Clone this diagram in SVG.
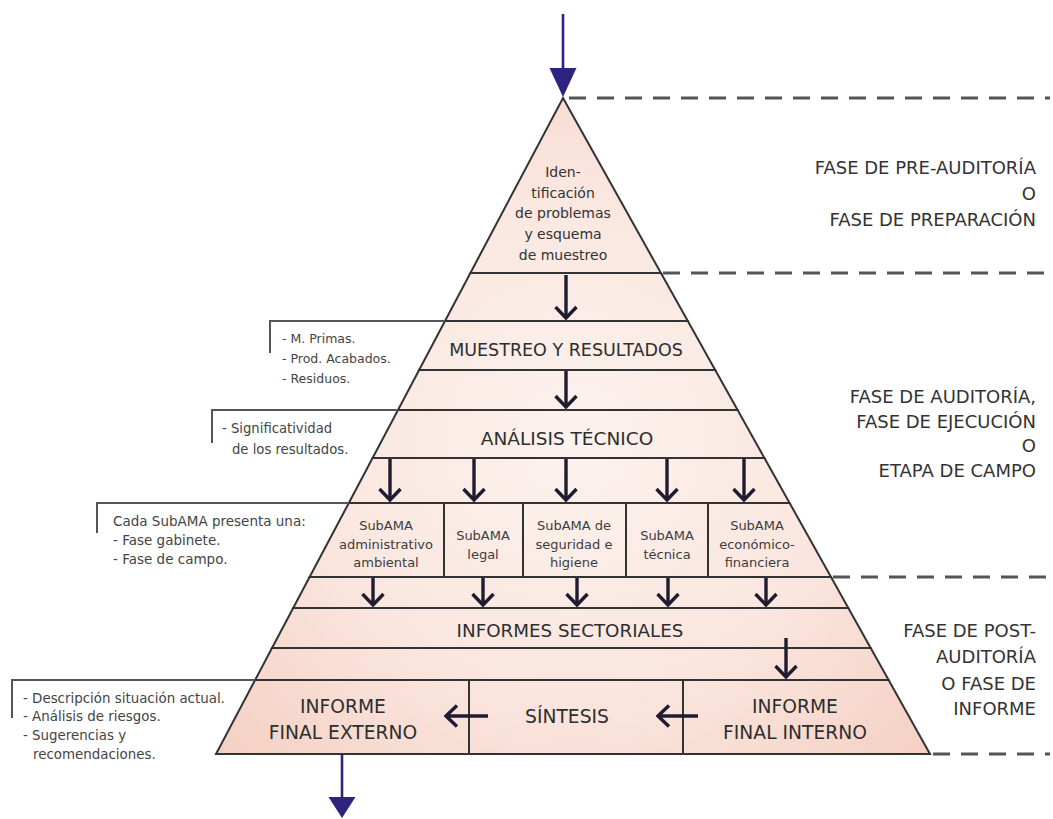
<svg xmlns="http://www.w3.org/2000/svg" width="1053" height="819" viewBox="0 0 1053 819">
  <defs>
    <radialGradient id="pinkFill" gradientUnits="userSpaceOnUse" cx="575" cy="440" r="470">
      <stop offset="0" stop-color="#fcf2ee"/>
      <stop offset="0.55" stop-color="#fae6df"/>
      <stop offset="1" stop-color="#f4d0c3"/>
    </radialGradient>
    <marker id="chev" viewBox="-14 -13 16 26" refX="0" refY="0" markerWidth="16" markerHeight="26" markerUnits="userSpaceOnUse" orient="auto">
      <path d="M-11,-10.5 L0,0 L-11,10.5" fill="none" stroke="#1f1c30" stroke-width="3.4" stroke-linejoin="miter"/>
    </marker>
    <style>
      .tier { fill: url(#pinkFill); stroke: #333; stroke-width: 2; stroke-linejoin: miter; }
      .div { stroke: #333; stroke-width: 2; }
      .lbl { font-family: "DejaVu Sans", Verdana, sans-serif; font-size: 17.5px; fill: #2e2e2e; text-anchor: middle; }
      .top { font-family: "DejaVu Sans", Verdana, sans-serif; font-size: 14px; fill: #333; text-anchor: middle; }
      .sub { font-family: "DejaVu Sans", Verdana, sans-serif; font-size: 13px; fill: #3c3c3c; text-anchor: middle; }
      .note { font-family: "DejaVu Sans", Verdana, sans-serif; font-size: 12.5px; fill: #444; }
      .phase { font-family: "DejaVu Sans", Verdana, sans-serif; font-size: 18px; fill: #333; text-anchor: end; }
      .dash { stroke: #555; stroke-width: 3; stroke-dasharray: 17 11; fill: none; }
      .bracket { stroke: #555; stroke-width: 2; fill: none; }
      .arr { stroke: #1f1c30; stroke-width: 3.4; fill: none; marker-end: url(#chev); }
      .blue { stroke: #2d2380; stroke-width: 2.6; }
      .bluehead { fill: #2d2380; }
    </style>
  </defs>

  <rect width="1053" height="819" fill="#ffffff"/>

  <!-- phase boundaries -->
  <g id="phase-lines">
    <line class="dash" x1="569" y1="98" x2="1050" y2="98"/>
    <line class="dash" x1="663" y1="273" x2="1050" y2="273"/>
    <line class="dash" x1="833" y1="577" x2="1050" y2="577"/>
    <line class="dash" x1="933" y1="754" x2="1050" y2="754"/>
  </g>

  <!-- pyramid tiers -->
  <g id="identificacion">
    <polygon class="tier" points="563,98 660.9,273 470.4,273"/>
    <text class="top" x="563" y="177">Iden-</text>
    <text class="top" x="563" y="198">tificación</text>
    <text class="top" x="563" y="218">de problemas</text>
    <text class="top" x="563" y="239">y esquema</text>
    <text class="top" x="563" y="260">de muestreo</text>
  </g>
  <g id="band-1">
    <polygon class="tier" points="470.4,273 660.9,273 687.8,321 445,321"/>
  </g>
  <g id="muestreo">
    <polygon class="tier" points="445,321 687.8,321 715.2,370 419.1,370"/>
    <text class="lbl" x="566" y="356">MUESTREO Y RESULTADOS</text>
  </g>
  <g id="band-2">
    <polygon class="tier" points="419.1,370 715.2,370 737.6,410 398,410"/>
  </g>
  <g id="analisis">
    <polygon class="tier" points="398,410 737.6,410 764.4,458 372.6,458"/>
    <text class="lbl" x="567" y="445" style="font-size:18.5px">ANÁLISIS TÉCNICO</text>
  </g>
  <g id="band-3">
    <polygon class="tier" points="372.6,458 764.4,458 789.6,503 348.8,503"/>
  </g>
  <g id="subama-row">
    <polygon class="tier" points="348.8,503 789.6,503 831,577 309.6,577"/>
    <line class="div" x1="444" y1="503" x2="444" y2="577"/>
    <line class="div" x1="523" y1="503" x2="523" y2="577"/>
    <line class="div" x1="626" y1="503" x2="626" y2="577"/>
    <line class="div" x1="708" y1="503" x2="708" y2="577"/>
  </g>
  <g id="subama-administrativo">
    <text class="sub" x="386" y="529.5">SubAMA</text>
    <text class="sub" x="386" y="548.5">administrativo</text>
    <text class="sub" x="386" y="566.5">ambiental</text>
  </g>
  <g id="subama-legal">
    <text class="sub" x="483" y="539.5">SubAMA</text>
    <text class="sub" x="483" y="558.5">legal</text>
  </g>
  <g id="subama-seguridad">
    <text class="sub" x="574" y="529.5">SubAMA de</text>
    <text class="sub" x="574" y="548.5">seguridad e</text>
    <text class="sub" x="574" y="566.5">higiene</text>
  </g>
  <g id="subama-tecnica">
    <text class="sub" x="667" y="539.5">SubAMA</text>
    <text class="sub" x="667" y="558.5">técnica</text>
  </g>
  <g id="subama-economico">
    <text class="sub" x="757" y="529.5">SubAMA</text>
    <text class="sub" x="757" y="548.5">económico-</text>
    <text class="sub" x="757" y="566.5">financiera</text>
  </g>
  <g id="band-4">
    <polygon class="tier" points="309.6,577 831,577 848.3,608 293.2,608"/>
  </g>
  <g id="informes-sectoriales">
    <polygon class="tier" points="293.2,608 848.3,608 870.7,648 272,648"/>
    <text class="lbl" x="570" y="637" style="font-size:18.3px">INFORMES SECTORIALES</text>
  </g>
  <g id="band-5">
    <polygon class="tier" points="272,648 870.7,648 888.6,680 255.1,680"/>
  </g>
  <g id="final-row">
    <polygon class="tier" points="255.1,680 888.6,680 930,754 216,754"/>
    <line class="div" x1="469" y1="680" x2="469" y2="754"/>
    <line class="div" x1="683" y1="680" x2="683" y2="754"/>
  </g>
  <g id="informe-externo">
    <text class="lbl" x="343" y="713" style="font-size:18.7px">INFORME</text>
    <text class="lbl" x="343" y="739" style="font-size:18.7px">FINAL EXTERNO</text>
  </g>
  <g id="sintesis">
    <text class="lbl" x="567" y="723" style="font-size:18.7px">SÍNTESIS</text>
  </g>
  <g id="informe-interno">
    <text class="lbl" x="795" y="713" style="font-size:18.7px">INFORME</text>
    <text class="lbl" x="795" y="739" style="font-size:18.7px">FINAL INTERNO</text>
  </g>

  <!-- side notes -->
  <g id="note-muestreo">
    <polyline class="bracket" points="270,353 270,321 445,321"/>
    <text class="note" x="282" y="343">- M. Primas.</text>
    <text class="note" x="282" y="363">- Prod. Acabados.</text>
    <text class="note" x="282" y="383">- Residuos.</text>
  </g>
  <g id="note-analisis">
    <polyline class="bracket" points="212,443 212,410 398,410"/>
    <text class="note" x="222" y="433" style="font-size:13.2px">- Significatividad</text>
    <text class="note" x="232" y="454" style="font-size:13.2px">de los resultados.</text>
  </g>
  <g id="note-subama" style="font-size:13.5px">
    <polyline class="bracket" points="97,533 97,503 349,503"/>
    <text class="note" x="113" y="526" style="font-size:13.5px">Cada SubAMA presenta una:</text>
    <text class="note" x="113" y="545" style="font-size:13.5px">- Fase gabinete.</text>
    <text class="note" x="113" y="564" style="font-size:13.5px">- Fase de campo.</text>
  </g>
  <g id="note-informe">
    <polyline class="bracket" points="12,718 12,680 255,680"/>
    <text class="note" x="23" y="703" style="font-size:13.4px">- Descripción situación actual.</text>
    <text class="note" x="23" y="721" style="font-size:13.4px">- Análisis de riesgos.</text>
    <text class="note" x="23" y="740" style="font-size:13.4px">- Sugerencias y</text>
    <text class="note" x="33" y="759" style="font-size:13.4px">recomendaciones.</text>
  </g>

  <!-- phase labels -->
  <g id="fase-pre">
    <text class="phase" x="1036" y="174">FASE DE PRE-AUDITORÍA</text>
    <text class="phase" x="1036" y="200">O</text>
    <text class="phase" x="1036" y="226">FASE DE PREPARACIÓN</text>
  </g>
  <g id="fase-auditoria">
    <text class="phase" x="1036" y="403">FASE DE AUDITORÍA,</text>
    <text class="phase" x="1036" y="428">FASE DE EJECUCIÓN</text>
    <text class="phase" x="1036" y="452">O</text>
    <text class="phase" x="1036" y="477">ETAPA DE CAMPO</text>
  </g>
  <g id="fase-post">
    <text class="phase" x="1036" y="637">FASE DE POST-</text>
    <text class="phase" x="1036" y="663">AUDITORÍA</text>
    <text class="phase" x="1036" y="690">O FASE DE</text>
    <text class="phase" x="1036" y="715">INFORME</text>
  </g>

  <!-- connectors -->
  <g id="connectors">
    <line class="blue" x1="563" y1="14" x2="563" y2="72"/>
    <polygon class="bluehead" points="549.5,68 576.5,68 563,97"/>

    <line class="arr" x1="566" y1="275" x2="566" y2="318"/>
    <line class="arr" x1="566" y1="371" x2="566" y2="407"/>

    <line class="arr" x1="390" y1="459" x2="390" y2="500"/>
    <line class="arr" x1="474" y1="459" x2="474" y2="500"/>
    <line class="arr" x1="566" y1="459" x2="566" y2="500"/>
    <line class="arr" x1="667" y1="459" x2="667" y2="500"/>
    <line class="arr" x1="744" y1="459" x2="744" y2="500"/>

    <line class="arr" x1="373" y1="578" x2="373" y2="605"/>
    <line class="arr" x1="483" y1="578" x2="483" y2="605"/>
    <line class="arr" x1="577" y1="578" x2="577" y2="605"/>
    <line class="arr" x1="668" y1="578" x2="668" y2="605"/>
    <line class="arr" x1="766" y1="578" x2="766" y2="605"/>

    <line class="arr" x1="786" y1="638" x2="786" y2="677"/>

    <line class="arr" x1="698" y1="716" x2="658" y2="716"/>
    <line class="arr" x1="488" y1="716" x2="446" y2="716"/>

    <line class="blue" x1="342" y1="754" x2="342" y2="800"/>
    <polygon class="bluehead" points="328.5,797 355.5,797 342,818"/>
  </g>
</svg>
